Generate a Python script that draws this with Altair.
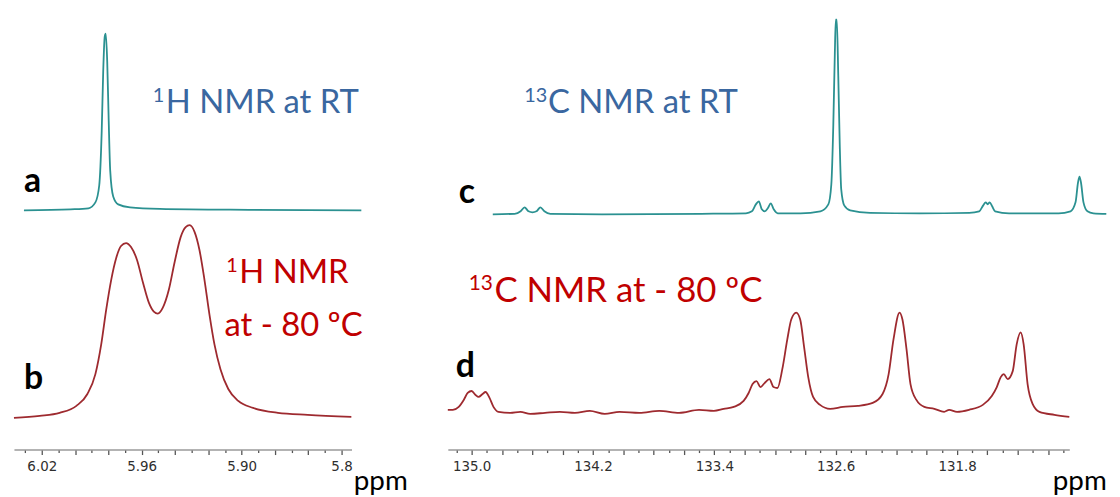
import altair as alt
import pandas as pd

# ---------------- data ----------------
# Spectrum a : 1H NMR at RT (ppm, intensity a.u.)
A_PPM = [6.0307, 6.0027, 5.9920, 5.9878, 5.9855, 5.9840, 5.9831, 5.9822, 5.9816,
         5.9807, 5.9798, 5.9789, 5.9771, 5.9741, 5.9670, 5.9491, 5.8955, 5.8281]
A_INT = [0, 1, 2, 8, 25, 80, 140, 175, 178, 150, 90, 40, 14, 6, 3, 1.5, 0.5, 0]

# Spectrum b : 1H NMR at -80 C
B_PPM = [6.0367, 6.0212, 6.0093, 5.9992, 5.9926, 5.9878, 5.9843, 5.9813, 5.9783,
         5.9753, 5.9724, 5.9694, 5.9664, 5.9628, 5.9592, 5.9557, 5.9527, 5.9503,
         5.9473, 5.9437, 5.9402, 5.9366, 5.9336, 5.9312, 5.9282, 5.9253, 5.9223,
         5.9193, 5.9163, 5.9127, 5.9080, 5.9020, 5.8931, 5.8782, 5.8603, 5.8341]
B_INT = [0, 2, 5, 12, 24, 44, 74, 109, 139, 161, 173, 176, 172, 159, 136, 116, 107,
         105, 111, 129, 157, 182, 192, 194, 187, 169, 139, 104, 74, 49, 29, 17, 10,
         5, 3, 1]

# Spectrum c : 13C NMR at RT
C_PPM = [134.8606, 134.7166, 134.6773, 134.6512, 134.6250, 134.5988, 134.5726,
         134.5465, 134.5203, 134.4810, 134.1407, 133.4863, 133.1917, 133.1525,
         133.1263, 133.1067, 133.0870, 133.0674, 133.0478, 133.0281, 133.0085,
         132.9823, 132.8318, 132.7009, 132.6485, 132.6289, 132.6158, 132.6060,
         132.5995, 132.5929, 132.5831, 132.5733, 132.5635, 132.5438, 132.5046,
         132.3737, 132.0465, 131.7192, 131.6538, 131.6276, 131.6112, 131.5981,
         131.5850, 131.5687, 131.5491, 131.4574, 131.1302, 131.0517, 131.0190,
         131.0026, 130.9928, 130.9830, 130.9666, 130.9404, 130.9012, 130.8161]
C_INT = [0, 0.5, 3, 7, 3, 2, 3, 7, 3, 0.5, 0, 0.5, 1, 3, 10, 13, 5, 3, 6, 11, 5,
         1, 1, 3, 10, 30, 90, 160, 196, 196, 140, 70, 25, 9, 4, 1.5, 1, 1.5, 3, 9,
         12, 10, 12, 8, 3, 1, 1, 3, 12, 32, 38, 32, 12, 3, 1, 0.5]

# Spectrum d : 13C NMR at -80 C
D_PPM = [135.157, 135.124, 135.085, 135.052, 135.026, 135.000, 134.974, 134.954,
         134.928, 134.908, 134.882, 134.856, 134.823, 134.745, 134.679, 134.614,
         134.516, 134.418, 134.319, 134.221, 134.123, 134.025, 133.894, 133.763,
         133.632, 133.501, 133.403, 133.338, 133.272, 133.207, 133.174, 133.148,
         133.122, 133.096, 133.069, 133.037, 133.010, 132.984, 132.952, 132.919,
         132.893, 132.860, 132.834, 132.808, 132.781, 132.749, 132.703, 132.637,
         132.552, 132.454, 132.356, 132.291, 132.251, 132.219, 132.179, 132.160,
         132.133, 132.107, 132.068, 132.016, 131.950, 131.885, 131.852, 131.800,
         131.721, 131.630, 131.571, 131.538, 131.512, 131.492, 131.466, 131.433,
         131.407, 131.381, 131.361, 131.335, 131.302, 131.257, 131.158, 131.060]
D_INT = [4, 4, 7, 14, 21, 23, 19, 17, 20, 22, 16, 7, 2, 1, 2, 0, 1, 2, 1, 3, 0, 2,
         1, 3, 1, 4, 3, 5, 7, 13, 21, 30, 33, 27, 31, 35, 27, 26, 45, 75, 95, 102,
         95, 67, 37, 17, 9, 5, 7, 8, 11, 20, 40, 75, 102, 95, 65, 30, 14, 7, 5, 2,
         4, 2, 4, 9, 18, 27, 37, 40, 35, 43, 70, 82, 70, 30, 10, 2, -1, -3]

# Axis ticks and labels
L_TICKS = [5.84, 5.85, 5.86, 5.87, 5.88, 5.89, 5.90, 5.91, 5.92, 5.93, 5.94, 5.95,
           5.96, 5.97, 5.98, 5.99, 6.00, 6.01, 6.02, 6.03]
L_LABELS = ["6.02", "5.96", "5.90", "5.84"]
R_TICKS = [131.1, 131.2, 131.3, 131.4, 131.5, 131.6, 131.7, 131.8, 131.9, 132.0,
           132.1, 132.2, 132.3, 132.4, 132.5, 132.6, 132.7, 132.8, 132.9, 133.0,
           133.1, 133.2, 133.3, 133.4, 133.5, 133.6, 133.7, 133.8, 133.9, 134.0,
           134.1, 134.2, 134.3, 134.4, 134.5, 134.6, 134.7, 134.8, 134.9, 135.0,
           135.1]
R_LABELS = ["135.0", "134.2", "133.4", "132.6", "131.8"]

# Annotations: (text, ppm, intensity)
ANN_A_LET = [("a", 6.0307, 18)]
ANN_B_LET = [("b", 6.0307, 29)]
ANN_C_LET = [("c", 135.085, 11)]
ANN_D_LET = [("d", 135.105, 37)]
ANN_A_SUP = [("1", 5.9533, 98)]
ANN_A_TXT = [("H NMR at RT", 5.9455, 98)]
ANN_B_SUP = [("1", 5.9092, 136)]
ANN_B_TXT = [("H NMR", 5.9014, 136), ("at - 80 ºC", 5.9103, 82)]
ANN_C_SUP = [("13", 134.653, 102)]
ANN_C_TXT = [("C NMR at RT", 134.496, 102)]
ANN_D_SUP = [("13", 135.0196, 113)]
ANN_D_TXT = [("C NMR at - 80 ºC", 134.8494, 113)]

# ---------------- styling ----------------
TEAL = "#2b9191"
DRED = "#9e2a2f"
BLUE = "#3a67a0"
RED = "#c00000"
FONT = "Lato"

xL = alt.Scale(domain=[6.0367, 5.834], range=[2, 342], nice=False, zero=False)
xR = alt.Scale(domain=[135.157, 131.06], range=[439, 1065], nice=False, zero=False)
yA = alt.Scale(domain=[0, 200], range=[202, 2], nice=False, zero=False)
yB = alt.Scale(domain=[0, 200], range=[411, 211], nice=False, zero=False)
yC = alt.Scale(domain=[0, 200], range=[206, 6], nice=False, zero=False)
yD = alt.Scale(domain=[0, 200], range=[407, 207], nice=False, zero=False)

left_expr = ("indexof(%s, format(datum.value,'.2f')) >= 0 ? "
             "(format(datum.value,'.2f') == '5.84' ? '5.8' : format(datum.value,'.2f')) : ''"
             % str(L_LABELS))
right_expr = ("indexof(%s, format(datum.value,'.1f')) >= 0 ? format(datum.value,'.1f') : ''"
              % str(R_LABELS))


def make_axis(values, expr, test, title_x):
    return alt.Axis(
        values=values, labelExpr=expr, orient="bottom", grid=False,
        domainColor="#9a9a9a", domainWidth=1.5,
        tickColor="#555555", tickWidth=1.3,
        tickSize={"condition": {"test": test, "value": 5}, "value": 3},
        labelFont="DejaVu Sans", labelFontSize=13.5, labelColor="#2e2e2e",
        labelPadding=5, labelOverlap=False, labelFlush=False, labelBound=False,
        title="ppm", titleFont=FONT, titleFontSize=28, titleFontWeight="normal",
        titleColor="#000000", titleX=title_x, titleY=40, titleAlign="center",
        titleBaseline="alphabetic",
    )


axL = make_axis(L_TICKS, left_expr,
                "abs(datum.value*50 - round(datum.value*50)) < 0.01", 371)
axR = make_axis(R_TICKS, right_expr,
                "abs(datum.value*5 - round(datum.value*5)) < 0.01", 1075)


def spectrum(ppm, inten, xs, ys, color, axis=None):
    df = pd.DataFrame({"ppm": ppm, "i": inten})
    return alt.Chart(df).mark_line(
        color=color, strokeWidth=1.8, interpolate="monotone", clip=False
    ).encode(
        x=alt.X("ppm:Q", scale=xs, axis=axis),
        y=alt.Y("i:Q", scale=ys, axis=None),
    )


def labels(items, xs, ys, color, size, weight="normal", dy=0):
    df = pd.DataFrame(items, columns=["t", "ppm", "i"])
    return alt.Chart(df).mark_text(
        font=FONT, fontSize=size, fontWeight=weight, color=color,
        align="left", baseline="alphabetic", clip=False, dy=dy
    ).encode(
        x=alt.X("ppm:Q", scale=xs, axis=None),
        y=alt.Y("i:Q", scale=ys, axis=None),
        text="t:N",
    )


layers = [
    spectrum(A_PPM, A_INT, xL, yA, TEAL),
    spectrum(B_PPM, B_INT, xL, yB, DRED, axL),
    spectrum(C_PPM, C_INT, xR, yC, TEAL),
    spectrum(D_PPM, D_INT, xR, yD, DRED, axR),
    labels(ANN_A_LET, xL, yA, "#000000", 34, "bold"),
    labels(ANN_B_LET, xL, yB, "#000000", 34, "bold"),
    labels(ANN_C_LET, xR, yC, "#000000", 34, "bold"),
    labels(ANN_D_LET, xR, yD, "#000000", 34, "bold"),
    labels(ANN_A_SUP, xL, yA, BLUE, 20, dy=-11),
    labels(ANN_A_TXT, xL, yA, BLUE, 33),
    labels(ANN_B_SUP, xL, yB, RED, 20, dy=-11),
    labels(ANN_B_TXT, xL, yB, RED, 33),
    labels(ANN_C_SUP, xR, yC, BLUE, 20, dy=-11),
    labels(ANN_C_TXT, xR, yC, BLUE, 33),
    labels(ANN_D_SUP, xR, yD, RED, 21, dy=-12),
    labels(ANN_D_TXT, xR, yD, RED, 35),
]

chart = alt.layer(*layers).resolve_scale(
    x="independent", y="independent"
).resolve_axis(
    x="independent", y="independent"
).properties(
    width=1104, height=443,
    autosize=alt.AutoSizeParams(type="none"),
    padding={"left": 4, "top": 0, "right": 4, "bottom": 46},
    background="white",
).configure_view(stroke=None)

chart.save("out.html", embed_options={"renderer": "svg", "actions": False})
